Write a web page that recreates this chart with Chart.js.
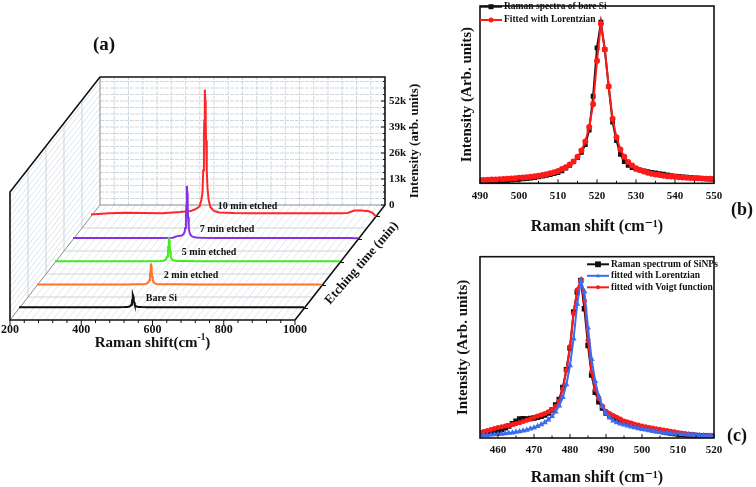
<!DOCTYPE html>
<html>
<head>
<meta charset="utf-8">
<script src="https://cdn.jsdelivr.net/npm/chart.js@4.4.1/dist/chart.umd.min.js"></script>
<style>
  body { margin: 0; background: #fff; }
  .panel { position: absolute; }
  #box-a { left: 0; top: 0; width: 440px; height: 360px; }
  #box-b { left: 440px; top: 0; width: 316px; height: 240px; }
  #box-c { left: 440px; top: 240px; width: 316px; height: 247px; }
</style>
</head>
<body>
<div class="panel" id="box-a"><canvas id="chart-a"></canvas></div>
<div class="panel" id="box-b"><canvas id="chart-b"></canvas></div>
<div class="panel" id="box-c"><canvas id="chart-c"></canvas></div>
<script>
// ---- (a) Raman spectra vs etching time ----
const samples = ['Bare Si', '2 min etched', '5 min etched', '7 min etched', '10 min etched'];
const sampleColors = ['#111111', '#ff7426', '#3fec1c', '#8431e6', '#ff2626'];
const ramanTicksA = [200, 400, 600, 800, 1000];
const intensityTicksA = [0, 13000, 26000, 39000, 52000];
const intensityLabelsA = ['0', '13k', '26k', '39k', '52k'];

const shiftA = [200, 250, 300, 350, 400, 450, 480, 495, 505, 510, 513, 515, 517, 518, 519, 520,
                521, 522, 523, 525, 527, 530, 535, 545, 560, 600, 650, 700, 750, 800, 850, 900,
                920, 940, 960, 980, 990, 1000];
const intBare = [600, 620, 650, 620, 640, 650, 680, 700, 770, 970, 1280, 1840, 3140, 4380, 5930, 6800,
                 5930, 4380, 3140, 1840, 1280, 970, 770, 700, 680, 660, 640, 630, 630, 620, 620, 610,
                 610, 600, 600, 600, 600, 600];
const int2min = [500, 520, 540, 520, 520, 540, 580, 620, 800, 1150, 1700, 2600, 4800, 6900, 9550, 11000,
                 9550, 6900, 4800, 2600, 1700, 1150, 800, 650, 600, 580, 560, 540, 540, 530, 530, 520,
                 520, 520, 540, 520, 520, 400];
const int5min = [600, 600, 620, 600, 600, 620, 660, 700, 900, 1300, 1950, 3000, 5600, 8000, 11100, 12800,
                 11100, 8000, 5600, 3000, 1950, 1300, 950, 750, 700, 650, 620, 620, 600, 600, 600, 600,
                 600, 600, 600, 600, 600, 600];
const int7min = [700, 720, 760, 740, 760, 800, 880, 1800, 2000, 2600, 3700, 5700, 11500, 16500, 23000, 26800,
                 23000, 16500, 11200, 5900, 3600, 2300, 1400, 1000, 850, 780, 760, 760, 760, 760, 760, 740,
                 760, 760, 720, 700, 680, 600];
const int10min = [1000, 1600, 1900, 1700, 1600, 2200, 2800, 3800, 5000, 8500, 12000, 23000, 39000, 48000, 58000, 63500,
                  58000, 48000, 38000, 23000, 14500, 8500, 4800, 2800, 2000, 1700, 1600, 1600, 1600, 1600, 1600, 1600,
                  1800, 3000, 3000, 2600, 1800, 0];
const spectraA = [intBare, int2min, int5min, int7min, int10min];

// ---- (b) bare Si and Lorentzian fit ----
const shiftB = [490, 491, 492, 493, 494, 495, 496, 497, 498, 499, 500, 501, 502, 503, 504, 505,
                506, 507, 508, 509, 510, 511, 512, 513, 514, 515, 516, 517, 518, 519, 520, 521,
                522, 523, 524, 525, 526, 527, 528, 529, 530, 531, 532, 533, 534, 535, 536, 537,
                538, 539, 540, 541, 542, 543, 544, 545, 546, 547, 548, 549, 550];
const siMeasured = [0.000, 0.003, 0.005, 0.008, 0.010, 0.012, 0.015, 0.017, 0.020, 0.022, 0.025, 0.028,
                    0.030, 0.033, 0.036, 0.040, 0.044, 0.049, 0.054, 0.060, 0.066, 0.078, 0.094, 0.112,
                    0.135, 0.160, 0.192, 0.240, 0.330, 0.540, 0.840, 1.000, 0.830, 0.600, 0.380, 0.265,
                    0.180, 0.135, 0.112, 0.098, 0.088, 0.082, 0.077, 0.072, 0.068, 0.064, 0.060, 0.056,
                    0.052, 0.048, 0.045, 0.042, 0.040, 0.038, 0.036, 0.034, 0.032, 0.030, 0.028, 0.026,
                    0.025];
const siLorentz = [0.020, 0.021, 0.022, 0.023, 0.024, 0.025, 0.026, 0.028, 0.030, 0.032, 0.034, 0.036,
                   0.038, 0.041, 0.044, 0.047, 0.051, 0.056, 0.062, 0.069, 0.077, 0.088, 0.100, 0.116,
                   0.136, 0.164, 0.203, 0.260, 0.350, 0.490, 0.760, 0.990, 0.830, 0.600, 0.400, 0.285,
                   0.210, 0.165, 0.132, 0.110, 0.094, 0.082, 0.073, 0.066, 0.060, 0.055, 0.051, 0.047,
                   0.044, 0.042, 0.040, 0.038, 0.036, 0.034, 0.033, 0.032, 0.031, 0.030, 0.029, 0.028,
                   0.027];
const ticksB = [490, 500, 510, 520, 530, 540, 550];

// ---- (c) SiNPs with Lorentzian and Voigt fits ----
const shiftC = [455, 456, 457, 458, 459, 460, 461, 462, 463, 464, 465, 466, 467, 468, 469, 470,
                471, 472, 473, 474, 475, 476, 477, 478, 479, 480, 481, 482, 483, 484, 485, 486,
                487, 488, 489, 490, 491, 492, 493, 494, 495, 496, 497, 498, 499, 500, 501, 502,
                503, 504, 505, 506, 507, 508, 509, 510, 511, 512, 513, 514, 515, 516, 517, 518,
                519, 520];
const npMeasured = [0.025, 0.028, 0.032, 0.036, 0.040, 0.045, 0.053, 0.064, 0.076, 0.090, 0.106, 0.121,
                    0.122, 0.121, 0.124, 0.127, 0.132, 0.137, 0.146, 0.158, 0.178, 0.209, 0.245, 0.320,
                    0.434, 0.570, 0.800, 0.925, 1.000, 0.820, 0.587, 0.400, 0.290, 0.230, 0.190, 0.158,
                    0.145, 0.132, 0.121, 0.110, 0.100, 0.093, 0.086, 0.078, 0.072, 0.066, 0.061, 0.057,
                    0.052, 0.047, 0.043, 0.039, 0.035, 0.031, 0.028, 0.025, 0.023, 0.021, 0.019, 0.017,
                    0.016, 0.015, 0.013, 0.012, 0.011, 0.010];
const npLorentz = [0.015, 0.017, 0.018, 0.020, 0.022, 0.024, 0.026, 0.028, 0.031, 0.034, 0.038, 0.042,
                   0.046, 0.051, 0.058, 0.065, 0.074, 0.085, 0.098, 0.116, 0.138, 0.167, 0.205, 0.258,
                   0.340, 0.460, 0.630, 0.850, 0.995, 0.930, 0.700, 0.500, 0.360, 0.265, 0.200, 0.155,
                   0.128, 0.110, 0.098, 0.090, 0.084, 0.077, 0.071, 0.066, 0.061, 0.056, 0.052, 0.048,
                   0.044, 0.040, 0.037, 0.034, 0.032, 0.029, 0.027, 0.025, 0.024, 0.022, 0.021, 0.020,
                   0.018, 0.017, 0.016, 0.015, 0.014, 0.013];
const npVoigt = [0.037, 0.042, 0.048, 0.054, 0.060, 0.066, 0.071, 0.076, 0.080, 0.085, 0.090, 0.097,
                 0.104, 0.112, 0.121, 0.131, 0.139, 0.147, 0.156, 0.166, 0.180, 0.200, 0.235, 0.310,
                 0.430, 0.580, 0.790, 0.940, 1.000, 0.870, 0.620, 0.420, 0.310, 0.250, 0.203, 0.170,
                 0.155, 0.143, 0.132, 0.120, 0.108, 0.101, 0.095, 0.088, 0.082, 0.076, 0.072, 0.067,
                 0.063, 0.059, 0.055, 0.051, 0.047, 0.043, 0.039, 0.035, 0.032, 0.028, 0.025, 0.021,
                 0.018, 0.016, 0.014, 0.013, 0.011, 0.010];
const ticksC = [460, 470, 480, 490, 500, 510, 520];

const SERIF = '"Liberation Serif", "Times New Roman", "DejaVu Serif", serif';
Chart.defaults.font.family = SERIF;
Chart.defaults.color = '#111';

// oblique projection of the 3D box: depth 0 = front, 1 = back wall
const X0 = 200, X1 = 1000, YTOP = 64000;
const DX = 252.6, DY = 57500;

function proj(chart, x, y, d) {
  return [chart.scales.x.getPixelForValue(x + d * DX), chart.scales.y.getPixelForValue(y + d * DY)];
}
function seg(ctx, a, b) {
  ctx.beginPath(); ctx.moveTo(a[0], a[1]); ctx.lineTo(b[0], b[1]); ctx.stroke();
}
function supTitle(ctx, base, sup, tail, cx, cy, size) {
  const f = s => `bold ${s}px ${SERIF}`;
  ctx.font = f(size);
  const w1 = ctx.measureText(base).width, w3 = ctx.measureText(tail).width;
  ctx.font = f(size * 0.62);
  const w2 = ctx.measureText(sup).width;
  let x = cx - (w1 + w2 + w3) / 2;
  ctx.textAlign = 'left'; ctx.textBaseline = 'middle';
  ctx.font = f(size); ctx.fillText(base, x, cy); x += w1;
  ctx.font = f(size * 0.62); ctx.fillText(sup, x, cy - size * 0.38); x += w2;
  ctx.font = f(size); ctx.fillText(tail, x, cy);
}

const boxPlugin = {
  id: 'box3d',
  beforeDatasetsDraw(chart) {
    const ctx = chart.ctx;
    const P = (x, y, d) => proj(chart, x, y, d);
    ctx.save();
    ctx.lineWidth = 1;
    // floor hatch (x grid running into depth)
    ctx.strokeStyle = '#e2e8ed';
    for (let x = X0 + 20; x < X1; x += 20) seg(ctx, P(x, 0, 0), P(x, 0, 1));
    // left wall hatch (intensity grid running into depth)
    ctx.strokeStyle = '#dde4ea';
    for (let y = 3250; y < YTOP; y += 3250) seg(ctx, P(X0, y, 0), P(X0, y, 1));
    // back wall grid
    ctx.strokeStyle = '#cfd8df';
    ctx.setLineDash([4, 1]);
    for (let x = X0 + 40; x < X1; x += 40) seg(ctx, P(x, 0, 1), P(x, YTOP, 1));
    for (let y = 3250; y < YTOP; y += 3250) seg(ctx, P(X0, y, 1), P(X1, y, 1));
    ctx.setLineDash([]);
    // depth grid on floor and left wall
    ctx.strokeStyle = '#c9d3db';
    for (let k = 1; k < 5; k++) {
      const d = k / 5;
      seg(ctx, P(X0, 0, d), P(X1, 0, d));
      seg(ctx, P(X0, 0, d), P(X0, YTOP, d));
    }
    // hidden edges
    ctx.strokeStyle = '#8a8a8a';
    seg(ctx, P(X0, 0, 1), P(X1, 0, 1));
    seg(ctx, P(X0, 0, 1), P(X0, YTOP, 1));
    seg(ctx, P(X0, 0, 0), P(X0, 0, 1));
    // outer edges
    ctx.strokeStyle = '#111'; ctx.lineWidth = 1.6;
    const outline = [P(X1, 0, 0), P(X0, 0, 0), P(X0, YTOP, 0), P(X0, YTOP, 1), P(X1, YTOP, 1), P(X1, 0, 1), P(X1, 0, 0)];
    ctx.beginPath();
    outline.forEach((p, i) => i ? ctx.lineTo(p[0], p[1]) : ctx.moveTo(p[0], p[1]));
    ctx.stroke();
    ctx.restore();
  },
  afterDatasetsDraw(chart) {
    const ctx = chart.ctx;
    const P = (x, y, d) => proj(chart, x, y, d);
    ctx.save();
    ctx.strokeStyle = '#111'; ctx.fillStyle = '#111'; ctx.lineWidth = 1;
    // Raman shift axis ticks
    for (let x = X0; x <= X1; x += 40) {
      const p = P(x, 0, 0);
      const len = ramanTicksA.includes(x) ? 5 : 3;
      seg(ctx, p, [p[0], p[1] + len]);
    }
    ctx.font = `bold 12px ${SERIF}`; ctx.textAlign = 'center'; ctx.textBaseline = 'middle';
    ramanTicksA.forEach(v => { const p = P(v, 0, 0); ctx.fillText(String(v), p[0], p[1] + 10); });
    // intensity axis on the back wall
    for (let y = 0; y <= YTOP; y += 3250) {
      const p = P(X1, y, 1);
      seg(ctx, p, [p[0] - (intensityTicksA.includes(y) ? 4 : 2), p[1]]);
    }
    ctx.font = `bold 11px ${SERIF}`; ctx.textAlign = 'left';
    intensityTicksA.forEach((v, i) => { const p = P(X1, v, 1); ctx.fillText(intensityLabelsA[i], p[0] + 4, p[1]); });
    // etching time axis ticks and sample labels
    ctx.font = `bold 10px ${SERIF}`;
    samples.forEach((name, i) => {
      const d = (i + 0.5) / samples.length;
      const e = P(X1, 0, d);
      seg(ctx, e, [e[0] + 4, e[1]]);
      const p = P(556, 0, d);
      ctx.fillText(name, p[0], p[1] - 10.5);
    });
    // titles
    ctx.textAlign = 'center';
    ctx.font = `bold 19px ${SERIF}`;
    ctx.fillText('(a)', 104, 45);
    const f0 = P(X0, 0, 0), f1 = P(X1, 0, 0);
    supTitle(ctx, 'Raman shift(cm', '-1', ')', (f0[0] + f1[0]) / 2, f0[1] + 23, 15);
    const b0 = P(X1, 0, 1), b1 = P(X1, YTOP, 1);
    ctx.save();
    ctx.translate(b0[0] + 30, (b0[1] + b1[1]) / 2);
    ctx.rotate(-Math.PI / 2);
    ctx.font = `bold 13px ${SERIF}`; ctx.textAlign = 'center'; ctx.textBaseline = 'middle';
    ctx.fillText('Intensity (arb. units)', 0, 0);
    ctx.restore();
    const ang = Math.atan2(b0[1] - f1[1], b0[0] - f1[0]);
    const ux = Math.cos(ang), uy = Math.sin(ang);
    const mx = (f1[0] + b0[0]) / 2 + 13 * ux - 17.6 * uy;
    const my = (f1[1] + b0[1]) / 2 + 13 * uy + 17.6 * ux;
    ctx.save();
    ctx.translate(mx, my);
    ctx.rotate(ang + 0.05);
    ctx.font = `bold 13px ${SERIF}`; ctx.textAlign = 'center'; ctx.textBaseline = 'middle';
    ctx.fillText('Etching time (min)', 0, 0);
    ctx.restore();
    ctx.restore();
  }
};

new Chart(document.getElementById('chart-a'), {
  type: 'scatter',
  data: {
    datasets: samples.map((name, i) => {
      const d = (i + 0.5) / samples.length;
      return {
        label: name,
        data: shiftA.map((x, k) => ({ x: x + d * DX, y: spectraA[i][k] + d * DY })),
        showLine: true,
        borderColor: sampleColors[i],
        borderWidth: 2,
        pointRadius: 0,
      };
    }),
  },
  options: {
    animation: false,
    responsive: true,
    maintainAspectRatio: false,
    layout: { padding: { left: 10, right: 38.125, top: 60, bottom: 40 } },
    scales: {
      x: { type: 'linear', display: false, min: 200, max: 1300 },
      y: { type: 'linear', display: false, min: 0, max: 130000 },
    },
    plugins: { legend: { display: false }, tooltip: { enabled: false } },
  },
  plugins: [boxPlugin],
});

// frame, inward ticks, panel letter and legend for (b) and (c)
function drawMarker(ctx, style, x, y, r) {
  ctx.beginPath();
  if (style === 'rect') ctx.rect(x - r, y - r, 2 * r, 2 * r);
  else if (style === 'triangle') { ctx.moveTo(x, y - r * 1.2); ctx.lineTo(x + r, y + r * 0.7); ctx.lineTo(x - r, y + r * 0.7); ctx.closePath(); }
  else ctx.arc(x, y, r, 0, Math.PI * 2);
  ctx.fill();
}
const framePlugin = {
  id: 'frame',
  afterDatasetsDraw(chart, args, opts) {
    const { ctx, chartArea: a } = chart;
    const sx = chart.scales.x;
    ctx.save();
    ctx.strokeStyle = '#111'; ctx.lineWidth = 1.6;
    ctx.strokeRect(a.left, a.top, a.right - a.left, a.bottom - a.top);
    ctx.lineWidth = 1;
    const tv = sx.ticks.map(t => t.value);
    tv.forEach((v, i) => {
      const px = sx.getPixelForValue(v);
      seg(ctx, [px, a.bottom], [px, a.bottom - 4]);
      if (i < tv.length - 1) {
        const pm = sx.getPixelForValue((v + tv[i + 1]) / 2);
        seg(ctx, [pm, a.bottom], [pm, a.bottom - 2.5]);
      }
    });
    ctx.fillStyle = '#111';
    ctx.font = `bold 18px ${SERIF}`; ctx.textAlign = 'center'; ctx.textBaseline = 'middle';
    ctx.fillText(opts.letter, opts.letterX, opts.letterY);
    ctx.font = `bold 9.5px ${SERIF}`; ctx.textAlign = 'left';
    chart.data.datasets.forEach((ds, i) => {
      const y = opts.legendY + i * opts.legendGap;
      ctx.strokeStyle = ds.borderColor; ctx.fillStyle = ds.borderColor; ctx.lineWidth = 2;
      seg(ctx, [opts.legendX, y], [opts.legendX + 22, y]);
      drawMarker(ctx, ds.pointStyle, opts.legendX + 11, y, ds.pointRadius + 0.5);
      ctx.fillStyle = '#111';
      ctx.fillText(ds.label, opts.legendX + 24, y);
    });
    ctx.restore();
  }
};

function axisFont(size) { return { family: SERIF, size: size, weight: 'bold' }; }

new Chart(document.getElementById('chart-b'), {
  type: 'scatter',
  data: {
    datasets: [
      { label: 'Raman spectra of bare Si', data: shiftB.map((x, i) => ({ x, y: siMeasured[i] })),
        showLine: true, borderColor: '#111', backgroundColor: '#111', borderWidth: 2,
        pointStyle: 'rect', pointRadius: 2, order: 2 },
      { label: 'Fitted with Lorentzian', data: shiftB.map((x, i) => ({ x, y: siLorentz[i] })),
        showLine: true, borderColor: '#ff1a1a', backgroundColor: '#ff1a1a', borderWidth: 2,
        pointStyle: 'circle', pointRadius: 2, order: 1 },
    ],
  },
  options: {
    animation: false,
    responsive: true,
    maintainAspectRatio: false,
    layout: { padding: { left: 14, right: 42, top: 3.3, bottom: 0 } },
    scales: {
      x: {
        type: 'linear', min: 490, max: 550,
        afterBuildTicks: s => { s.ticks = ticksB.map(v => ({ value: v })); },
        grid: { display: false, drawTicks: false }, border: { display: false },
        ticks: { padding: 6, color: '#111', font: axisFont(11) },
        title: { display: true, text: 'Raman shift (cm\u207B\u00B9)', color: '#111', font: axisFont(16), padding: { top: 8.6, bottom: 3.7 } },
      },
      y: {
        min: 0, max: 1.1,
        ticks: { display: false }, grid: { display: false, drawTicks: false }, border: { display: false },
        title: { display: true, text: 'Intensity (Arb. units)', color: '#111', font: axisFont(15), padding: { top: 4, bottom: 4 } },
      },
    },
    plugins: {
      legend: { display: false }, tooltip: { enabled: false },
      frame: { letter: '(b)', letterX: 302, letterY: 210, legendX: 40, legendY: 6.7, legendGap: 13.3 },
    },
  },
  plugins: [framePlugin],
});

new Chart(document.getElementById('chart-c'), {
  type: 'scatter',
  data: {
    datasets: [
      { label: 'Raman spectrum of SiNPs', data: shiftC.map((x, i) => ({ x, y: npMeasured[i] })),
        showLine: true, borderColor: '#111', backgroundColor: '#111', borderWidth: 2,
        pointStyle: 'rect', pointRadius: 2.4, order: 2 },
      { label: 'fitted with Lorentzian', data: shiftC.map((x, i) => ({ x, y: npLorentz[i] })),
        showLine: true, borderColor: '#3a6cf0', backgroundColor: '#3a6cf0', borderWidth: 2,
        pointStyle: 'triangle', pointRadius: 1.5, order: 0 },
      { label: 'fitted with Voigt function', data: shiftC.map((x, i) => ({ x, y: npVoigt[i] })),
        showLine: true, borderColor: '#ff1a1a', backgroundColor: '#ff1a1a', borderWidth: 2,
        pointStyle: 'circle', pointRadius: 1.5, order: 1 },
    ],
  },
  options: {
    animation: false,
    responsive: true,
    maintainAspectRatio: false,
    layout: { padding: { left: 10, right: 42, top: 16.7, bottom: 0 } },
    scales: {
      x: {
        type: 'linear', min: 455, max: 520,
        afterBuildTicks: s => { s.ticks = ticksC.map(v => ({ value: v })); },
        grid: { display: false, drawTicks: false }, border: { display: false },
        ticks: { padding: 6, color: '#111', font: axisFont(11) },
        title: { display: true, text: 'Raman shift (cm\u207B\u00B9)', color: '#111', font: axisFont(16), padding: { top: 4.6, bottom: 0 } },
      },
      y: {
        min: 0, max: 1.15,
        ticks: { display: false }, grid: { display: false, drawTicks: false }, border: { display: false },
        title: { display: true, text: 'Intensity (Arb. units)', color: '#111', font: axisFont(15), padding: { top: 4, bottom: 8 } },
      },
    },
    plugins: {
      legend: { display: false }, tooltip: { enabled: false },
      frame: { letter: '(c)', letterX: 297, letterY: 196.7, legendX: 147, legendY: 24.3, legendGap: 11.5 },
    },
  },
  plugins: [framePlugin],
});
</script>
</body>
</html>
